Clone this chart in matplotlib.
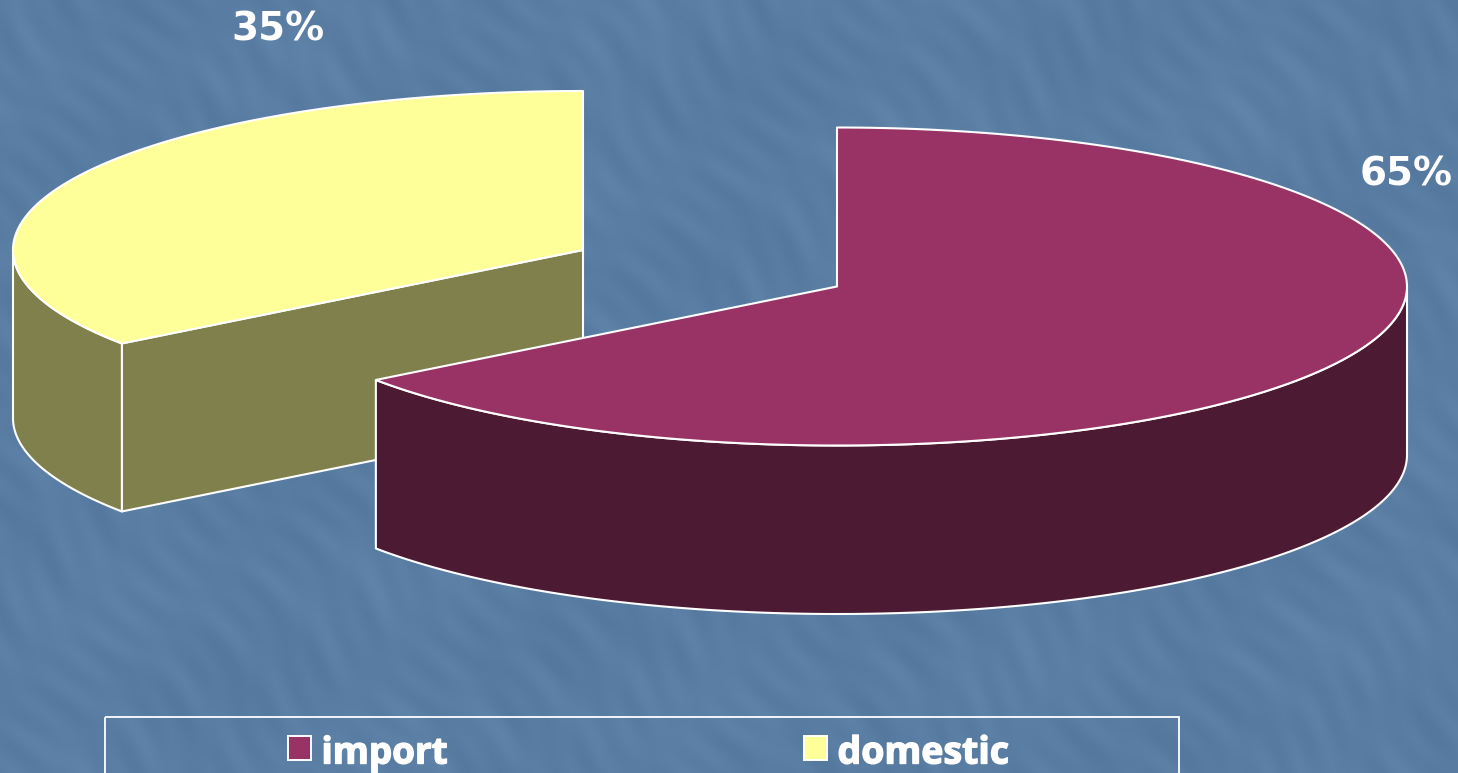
import numpy as np
import matplotlib
matplotlib.use("Agg")
import matplotlib.pyplot as plt
import matplotlib.patheffects as pe
from matplotlib.patches import Polygon, Rectangle

# --- data
categories = ["import", "domestic"]
shares = [65, 35]
share_labels = ["65%", "35%"]

# --- style / layout
W, H = 1458, 773
top_colors = ["#993366", "#FFFF99"]
side_colors = ["#4C1A33", "#80804C"]
centers = [(837, 286.5), (583, 250)]
RX, RY = 570, 159
depths = [168.5, 168]
EDGE = "white"
LW = 1.5

fig = plt.figure(figsize=(W / 100, H / 100), dpi=100)
ax = fig.add_axes([0, 0, 1, 1])
ax.set_xlim(0, W)
ax.set_ylim(H, 0)
ax.axis("off")

# --- decorative background texture (deterministic diagonal streaks)
yy, xx = np.mgrid[0:H:2, 0:W:2]
u = xx * 0.62 + yy * 0.78
v = xx * 0.78 - yy * 0.62
tex = (0.6 * np.sin(v / 11 + np.sin(u / 61) * 1.7) * np.sin(u / 67 + 1.1)
       + 0.7 * np.sin(v / 5.3 + np.sin(u / 37) * 2.1) * np.sin(u / 29 + v / 140)
       + 0.5 * np.sin(xx / 83 + yy / 47) * np.sin(yy / 71 - xx / 131))
tex = np.clip(tex, -1.0, 1.8)
base = np.array([0x5A, 0x7D, 0xA4], dtype=float) / 255
rgb = base[None, None, :] + tex[..., None] * 0.016
ax.imshow(np.clip(rgb, 0, 1), extent=(0, W, H, 0), aspect="auto", zorder=0,
          interpolation="bilinear")
ax.set_xlim(0, W)
ax.set_ylim(H, 0)


def rim(cx, cy, t0, t1):
    t = np.radians(np.linspace(t0, t1, 200))
    return np.column_stack([cx + RX * np.sin(t), cy - RY * np.cos(t)])


# wedge angles clockwise from 12 o'clock, from the shares
total = sum(shares)
split = 360 * shares[0] / total
spans = [(0, split), (split, 360)]

style = dict(edgecolor=EDGE, linewidth=LW, joinstyle="round")

# domestic slice (behind)
cx, cy = centers[1]
t0, t1 = spans[1]
d = depths[1]
p0 = rim(cx, cy, t0, t0)[0]
ax.add_patch(Polygon([(cx, cy), p0, p0 + (0, d), (cx, cy + d)],
                     facecolor=side_colors[1], zorder=2, **style))
wall = rim(cx, cy, t0, 270)
ax.add_patch(Polygon(np.vstack([wall, (wall + (0, d))[::-1]]),
                     facecolor=side_colors[1], zorder=2, **style))
ax.add_patch(Polygon(np.vstack([[(cx, cy)], rim(cx, cy, t0, t1)]),
                     facecolor=top_colors[1], zorder=3, **style))

# import slice (front)
cx, cy = centers[0]
t0, t1 = spans[0]
d = depths[0]
wall = rim(cx, cy, 90, t1)
ax.add_patch(Polygon(np.vstack([wall, (wall + (0, d))[::-1]]),
                     facecolor=side_colors[0], zorder=4, **style))
ax.add_patch(Polygon(np.vstack([[(cx, cy)], rim(cx, cy, t0, t1)]),
                     facecolor=top_colors[0], zorder=5, **style))

# value labels
font = dict(color="white", fontweight="bold", family="DejaVu Sans", zorder=6)
ax.text(1406, 174.5, share_labels[0], ha="center", va="center", fontsize=28, **font)
ax.text(278, 29.5, share_labels[1], ha="center", va="center", fontsize=28, **font)

# legend
ax.add_patch(Rectangle((105, 717), 1074, 100, facecolor="none", edgecolor=EDGE,
                       linewidth=1.3, zorder=6))
heavy = [pe.withStroke(linewidth=1.0, foreground="white")]
for i, (name, sx, fs) in enumerate(zip(categories, (288, 804), (26.5, 27))):
    ax.add_patch(Rectangle((sx, 736), 23, 24, facecolor=top_colors[i], edgecolor=EDGE,
                           linewidth=1.4, zorder=6))
    ax.text(sx + 33.5, 749, name, ha="left", va="center_baseline", color="white",
            fontweight="bold", family="Open Sans", fontsize=fs, zorder=6,
            path_effects=heavy)

fig.savefig("out.png", dpi=100)
